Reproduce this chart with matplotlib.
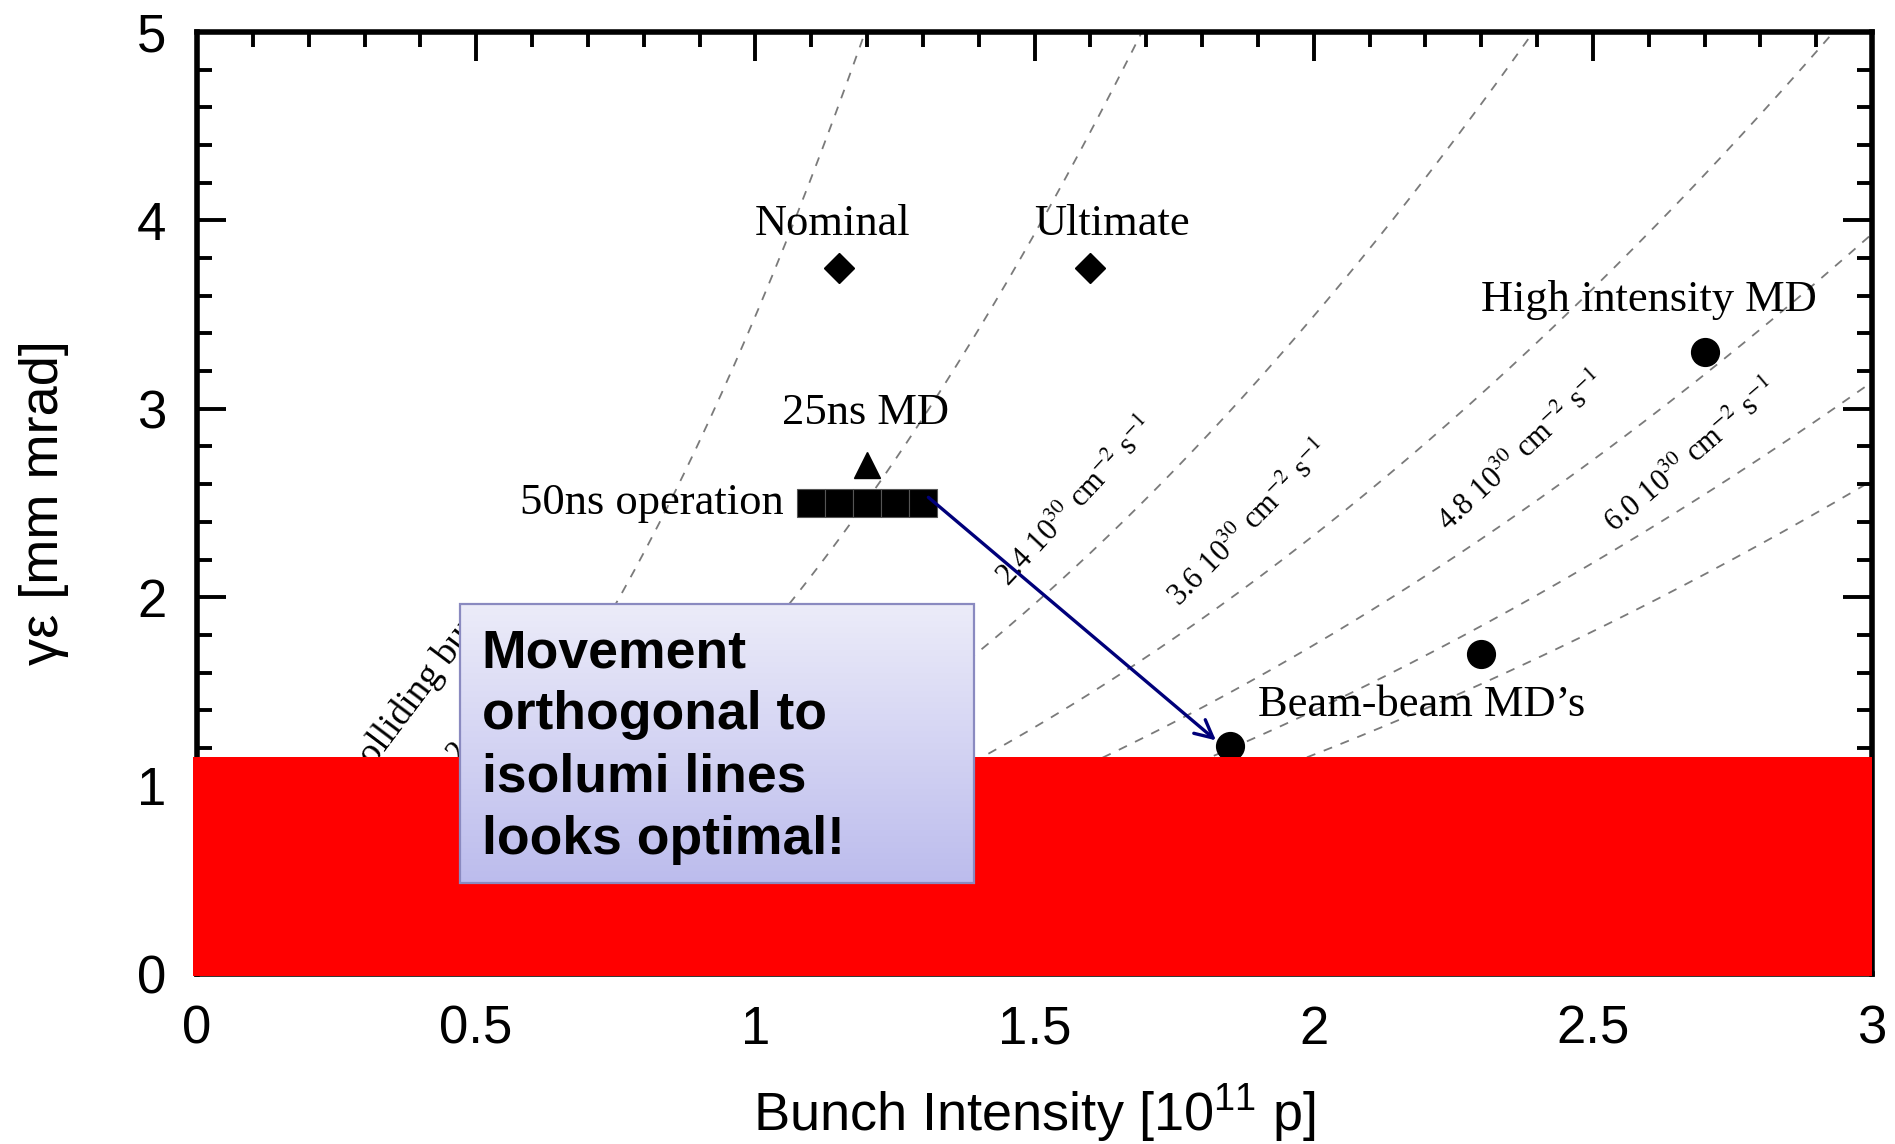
import numpy as np
import matplotlib
matplotlib.use("Agg")
import matplotlib.pyplot as plt
from matplotlib.patches import Rectangle
from matplotlib.ticker import MultipleLocator
from matplotlib.transforms import Bbox, TransformedBbox

plt.rcParams['font.family'] = ['Liberation Sans', 'DejaVu Sans']
plt.rcParams['mathtext.fontset'] = 'custom'
plt.rcParams['mathtext.rm'] = 'Liberation Sans'
plt.rcParams['mathtext.it'] = 'Liberation Sans:italic'
plt.rcParams['mathtext.bf'] = 'Liberation Sans:bold'
plt.rcParams['lines.scale_dashes'] = False

# ---------------- data ----------------
nominal = (1.15, 3.75)
ultimate = (1.60, 3.75)
md25 = (1.20, 2.70)
op50_x = [1.10, 1.15, 1.20, 1.25, 1.30]
op50_y = [2.50, 2.50, 2.50, 2.50, 2.50]
beambeam_x = [1.85, 2.30]
beambeam_y = [1.21, 1.70]
highint = (2.70, 3.30)

# iso-luminosity levels [1e30 cm^-2 s^-1] and constant
lumi_levels = [0.6, 1.2, 2.4, 3.6, 4.8, 6.0, 7.2]
iso_const = 2.095      # eps = iso_const * N^2 / L
lumi_labels = ["2.4", "3.6", "4.8", "6.0"]
lumi_label_x = [1.575, 1.886, 2.373, 2.678]
lumi_label_y = [2.50, 2.383, 2.765, 2.744]
lumi_label_rot = [47, 45.5, 43, 40.5]

red_limit = 1.152
xticks = [0, 0.5, 1, 1.5, 2, 2.5, 3]
xticklabels = ["0", "0.5", "1", "1.5", "2", "2.5", "3"]
yticks = [0, 1, 2, 3, 4, 5]

# ---------------- figure ----------------
fig = plt.figure(figsize=(18.95, 11.44), dpi=100)
ax = fig.add_axes([197/1895, 1-974/1144, (1872-197)/1895, (974-32)/1144])

N = np.linspace(0, 3, 400)
for L in lumi_levels:
    ax.plot(N, iso_const * N**2 / L, color='#7a7a7a', lw=1.3,
            dashes=(6.5, 6.5), zorder=1)

ax.plot(*nominal, marker='D', ms=14.8, color='black', ls='none', zorder=3)
ax.plot(*ultimate, marker='D', ms=14.8, color='black', ls='none', zorder=3)
ax.plot(*md25, marker='^', ms=19, color='black', ls='none', zorder=3)
ax.plot(op50_x, op50_y, marker='s', ms=20, color='black', mec='#555555',
        mew=0.8, ls='none', zorder=3)
ax.plot(beambeam_x, beambeam_y, marker='o', ms=20, color='black', ls='none', zorder=3)
ax.plot(*highint, marker='o', ms=20, color='black', ls='none', zorder=3)

serif = ['Liberation Serif', 'DejaVu Serif']
fs_lab = 32
ax.text(1.139, 3.98, "Nominal", family=serif, fontsize=fs_lab, ha='center', va='center', zorder=3)
ax.text(1.638, 3.98, "Ultimate", family=serif, fontsize=fs_lab, ha='center', va='center', zorder=3)
ax.text(1.197, 2.98, "25ns MD", family=serif, fontsize=fs_lab, ha='center', va='center', zorder=3)
ax.text(1.05, 2.50, "50ns operation", family=serif, fontsize=fs_lab, ha='right', va='center', zorder=3)
ax.text(2.60, 3.58, "High intensity MD", family=serif, fontsize=fs_lab, ha='center', va='center', zorder=3)
ax.text(2.194, 1.43, "Beam-beam MD\u2019s", family=serif, fontsize=fs_lab, ha='center', va='center', zorder=3)

for lab, lx, ly, rot in zip(lumi_labels, lumi_label_x, lumi_label_y, lumi_label_rot):
    ax.text(lx, ly, lab + r" 10$^{30}$ cm$^{-2}$ s$^{-1}$", family=serif, fontsize=22,
            math_fontfamily='stix', rotation=rot, rotation_mode='anchor',
            ha='center', va='center', zorder=3)

# gradient text box geometry
bx0, bx1, by0, by1 = 0.471, 1.392, 0.483, 1.964

# labels partly hidden behind the box (clipped at the box top)
hidden_clip = TransformedBbox(Bbox([[-0.1, -0.1], [3.0, by1]]), ax.transData)
t1 = ax.text(0.445, 1.02, r"1.2 10$^{30}$ cm$^{-2}$ s$^{-1}$", family=serif, fontsize=22,
             math_fontfamily='stix', rotation=50, rotation_mode='anchor',
             ha='left', va='baseline', zorder=3)
t2 = ax.text(0.298, 1.03, "colliding bunches", family=serif, fontsize=27,
             rotation=53, rotation_mode='anchor', ha='left', va='baseline', zorder=3)
for tt in (t1, t2):
    tt.set_clip_box(hidden_clip)
    tt.set_clip_on(True)

# arrow
ax.annotate('', xy=(1.825, 1.24), xytext=(1.31, 2.53),
            arrowprops=dict(arrowstyle='->', color='#00007a', lw=2.4,
                            mutation_scale=32, shrinkA=0, shrinkB=0), zorder=3)

# red band
ax.add_patch(Rectangle((-0.007, -0.01), 3.007, red_limit + 0.01, facecolor='#ff0000',
                       edgecolor='none', clip_on=False, zorder=4))

# gradient text box
top_c = np.array([236, 236, 249]) / 255
bot_c = np.array([188, 188, 237]) / 255
t = np.linspace(0, 1, 256)[:, None]
grad = (top_c[None, :] * (1 - t) + bot_c[None, :] * t)[:, None, :]
ax.imshow(grad, extent=[bx0, bx1, by0, by1], aspect='auto', origin='upper',
          zorder=5, interpolation='bilinear')
ax.add_patch(Rectangle((bx0, by0), bx1 - bx0, by1 - by0, facecolor='none',
                       edgecolor='#8a8ac0', lw=1.6, zorder=5.5))
ax.text(0.510, 1.835, "Movement\northogonal to\nisolumi lines\nlooks optimal!",
        fontsize=38.5, fontweight='bold', ha='left', va='top', linespacing=1.31, zorder=6)

# axes
ax.set_xlim(0, 3)
ax.set_ylim(0, 5)
ax.set_xticks(xticks)
ax.set_xticklabels(xticklabels)
ax.set_yticks(yticks)
ax.xaxis.set_minor_locator(MultipleLocator(0.1))
ax.yaxis.set_minor_locator(MultipleLocator(0.2))
ax.tick_params(which='both', direction='in', top=True, right=True, width=2.8,
               labelsize=38, pad=22)
ax.tick_params(which='major', length=21)
ax.tick_params(which='minor', length=11)
for s in ax.spines.values():
    s.set_linewidth(4)

ax.set_xlabel(r"Bunch Intensity [10$^{11}$ p]", fontsize=39, labelpad=20)
ax.set_ylabel("\u03b3\u03b5 [mm mrad]", fontsize=39, labelpad=49)

fig.savefig("out.png", dpi=100)
